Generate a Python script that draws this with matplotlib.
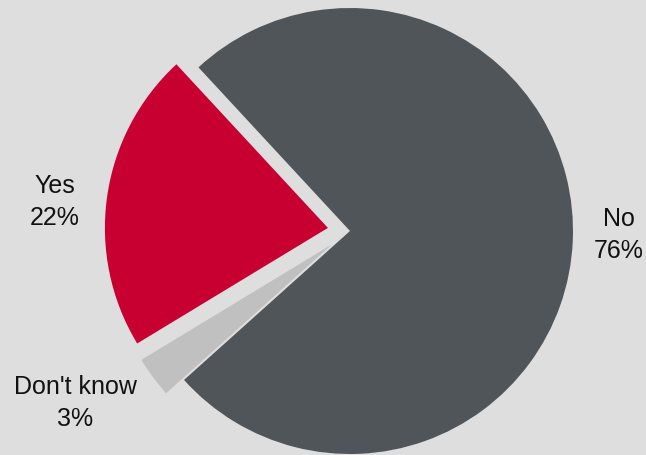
import matplotlib.pyplot as plt

# Survey answers (percent)
labels = ["No", "Don't know", "Yes"]
values = [76, 3, 22]
colors = ["#50555a", "#c0c0c0", "#c80032"]
explode = [0, 0.1, 0.1]

# label positions in data units (pie radius = 1)
label_pos = {"No": (1.204, -0.015), "Don't know": (-1.231, -0.765), "Yes": (-1.325, 0.135)}

bg = "#dedede"
fig = plt.figure(figsize=(6.46, 4.56), dpi=100, facecolor=bg)
ax = fig.add_axes([0, 0, 1, 1])
ax.set_facecolor(bg)

ax.pie(values, colors=colors, explode=explode, startangle=132.8,
       counterclock=False, radius=1, wedgeprops=dict(linewidth=0))

# pixel scale: 223 px per unit, centre at (350, 232)
ax.set_xlim(-350 / 223, (646 - 350) / 223)
ax.set_ylim(-(456 - 232) / 223, 232 / 223)
ax.set_aspect("auto")
ax.axis("off")

for lab, val in zip(labels, values):
    x, y = label_pos[lab]
    ax.text(x, y, f"{lab}\n{val}%", ha="center", va="center",
            fontsize=18, family="Liberation Sans", color="#111111",
            linespacing=1.42)

fig.savefig("out.png", dpi=100, facecolor=bg)
